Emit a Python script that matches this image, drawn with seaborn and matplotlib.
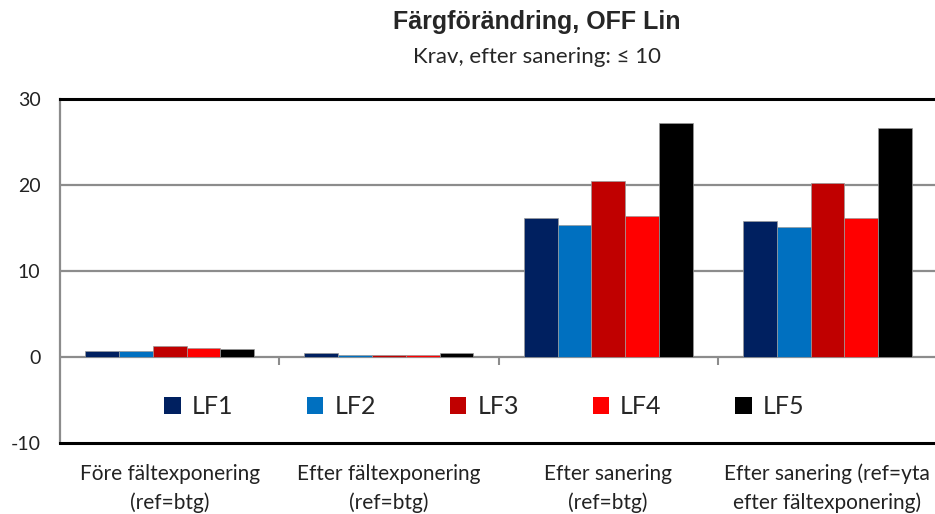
import numpy as np
import pandas as pd
import matplotlib
matplotlib.use("Agg")
import matplotlib.pyplot as plt
import seaborn as sns

kategorier = ["Före fältexponering\n(ref=btg)",
              "Efter fältexponering\n(ref=btg)",
              "Efter sanering\n(ref=btg)",
              "Efter sanering (ref=yta\nefter fältexponering)"]
serier = ["LF1", "LF2", "LF3", "LF4", "LF5"]
lf1 = [0.7, 0.42, 16.2, 15.8]
lf2 = [0.7, 0.19, 15.4, 15.1]
lf3 = [1.25, 0.3, 20.5, 20.2]
lf4 = [1.1, 0.3, 16.4, 16.2]
lf5 = [0.95, 0.42, 27.2, 26.6]
farger = ["#002060", "#0070C0", "#C00000", "#FF0000", "#000000"]
yticks = [-10, 0, 10, 20, 30]

rows = []
for namn, vals in zip(serier, [lf1, lf2, lf3, lf4, lf5]):
    for k, v in zip(kategorier, vals):
        rows.append({"kategori": k, "serie": namn, "varde": v})
df = pd.DataFrame(rows)

sns.set_style("white")
plt.rcParams['font.family'] = ['Liberation Sans', 'DejaVu Sans']

fig = plt.figure(figsize=(9.35, 5.14), dpi=100)
ax = fig.add_axes([0.0642, 0.138, 0.938, 0.669])

sns.barplot(data=df, x="kategori", y="varde", hue="serie", order=kategorier,
            hue_order=serier, palette=farger, width=0.77, saturation=1,
            edgecolor="#9a9a9a", linewidth=0.5, ax=ax, zorder=2)

ax.set_ylim(-10, 30)
ax.set_xlim(-0.5, 3.5)
ax.set_yticks(yticks)
ax.set_yticklabels([str(t) for t in yticks], fontsize=14, family=["Lato", "DejaVu Sans"],
                   color="#222222")
ax.set_xlabel("")
ax.set_ylabel("")
ax.tick_params(axis="y", direction="out", length=5, color="#8c8c8c", width=1.2, pad=9)
ax.tick_params(axis="x", length=0, pad=15)
ax.set_xticks(range(len(kategorier)))
ax.set_xticklabels(kategorier, fontsize=15, family=["Lato", "DejaVu Sans"], color="#222222",
                   linespacing=1.5)

for t in [0, 10, 20]:
    ax.axhline(t, color="#8c8c8c", lw=1.6, zorder=1)

ax.spines["top"].set_color("black")
ax.spines["top"].set_linewidth(2.2)
ax.spines["bottom"].set_color("black")
ax.spines["bottom"].set_linewidth(2.2)
ax.spines["left"].set_color("#8c8c8c")
ax.spines["left"].set_linewidth(1.6)
ax.spines["right"].set_visible(False)

# tick marks at category borders on the zero line
sec = ax.secondary_xaxis(0.25)
sec.set_xticks([0.5, 1.5, 2.5])
sec.set_xticklabels([])
sec.tick_params(length=6, color="#8c8c8c", width=1.5, direction="out")
sec.spines["bottom"].set_visible(False)

leg = ax.legend(loc="center", bbox_to_anchor=(0.484, 0.105), ncol=5, frameon=False,
                prop={"family": ["Lato", "DejaVu Sans"], "size": 18},
                handlelength=0.65, handleheight=0.65, handletextpad=0.45,
                columnspacing=2.95)
for h in leg.legend_handles:
    h.set_edgecolor("none")

fig.text(0.574, 0.957, "Färgförändring, OFF Lin", ha="center", va="center",
         fontsize=18, fontweight="bold")
fig.text(0.574, 0.889, "Krav, efter sanering: ≤ 10", ha="center", va="center",
         fontsize=16, family=["Lato", "DejaVu Sans"])

fig.savefig("out.png", dpi=100)
